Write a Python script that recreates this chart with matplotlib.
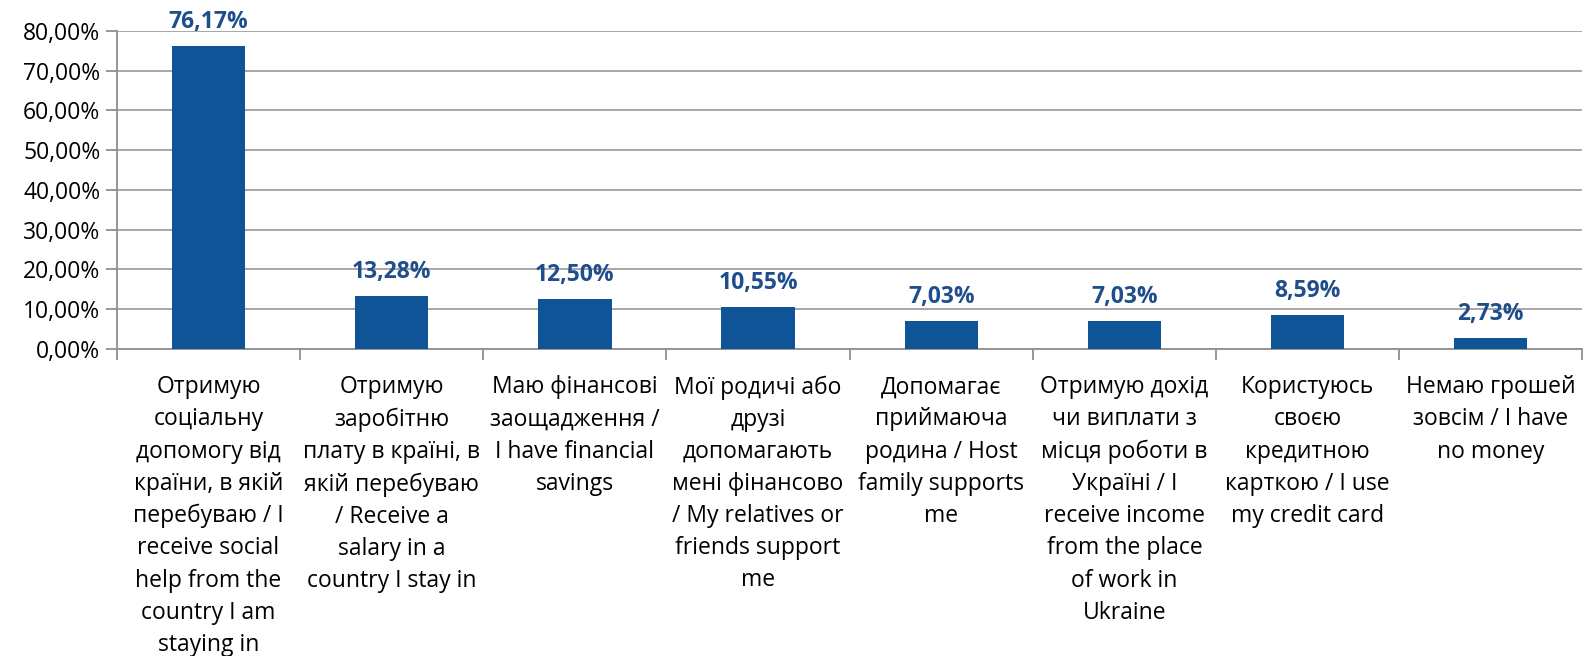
import matplotlib.pyplot as plt
from matplotlib.ticker import FuncFormatter, FixedLocator

plt.rcParams['font.family'] = ['Open Sans', 'DejaVu Sans']

categories = [
    "Отримую\nсоціальну\nдопомогу від\nкраїни, в якій\nперебуваю / I\nreceive social\nhelp from the\ncountry I am\nstaying in",
    "Отримую\nзаробітню\nплату в країні, в\nякій перебуваю\n/ Receive a\nsalary in a\ncountry I stay in",
    "Маю фінансові\nзаощадження /\nI have financial\nsavings",
    "Мої родичі або\nдрузі\nдопомагають\nмені фінансово\n/ My relatives or\nfriends support\nme",
    "Допомагає\nприймаюча\nродина / Host\nfamily supports\nme",
    "Отримую дохід\nчи виплати з\nмісця роботи в\nУкраїні / I\nreceive income\nfrom the place\nof work in\nUkraine",
    "Користуюсь\nсвоєю\nкредитною\nкарткою / I use\nmy credit card",
    "Немаю грошей\nзовсім / I have\nno money",
]
values = [76.17, 13.28, 12.50, 10.55, 7.03, 7.03, 8.59, 2.73]

bar_color = '#0E5496'
label_color = '#1F4E8C'

fig = plt.figure(figsize=(15.85, 6.56), dpi=100)
ax = fig.add_axes([0.0738, 0.468, 0.9245, 0.485])

x = list(range(len(values)))
ax.bar(x, values, width=0.4, color=bar_color, zorder=3)

for xi, v in zip(x, values):
    ax.text(xi, v + 3.0, f"{v:.2f}%".replace('.', ','), ha='center', va='bottom',
            fontsize=16.5, fontweight='bold', color=label_color)

ax.set_xlim(-0.5, len(values) - 0.5)
ax.set_ylim(0, 80)
ax.set_yticks(range(0, 81, 10))
ax.yaxis.set_major_formatter(FuncFormatter(lambda v, p: f"{v:.2f}%".replace('.', ',')))
ax.grid(axis='y', color='#A0A0A0', linewidth=1.3, zorder=0)

ax.set_xticks(x)
ax.set_xticklabels(categories, fontsize=16.5, linespacing=1.45, va='top')
ax.tick_params(axis='x', which='major', length=0, pad=19)
ax.xaxis.set_minor_locator(FixedLocator([i - 0.5 for i in range(len(values) + 1)]))
ax.tick_params(axis='x', which='minor', length=8, width=1.3, color='#909090')
ax.tick_params(axis='y', length=8, width=1.3, color='#909090', labelsize=16.5, pad=4)

for side in ['top', 'right']:
    ax.spines[side].set_visible(False)
for side in ['left', 'bottom']:
    ax.spines[side].set_color('#909090')
    ax.spines[side].set_linewidth(1.3)

fig.savefig('out.png', dpi=100)
